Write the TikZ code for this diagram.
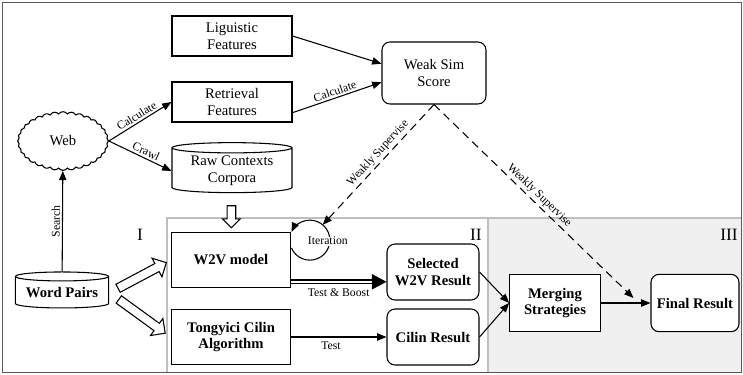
\documentclass[tikz,border=0pt]{standalone}
\usepackage{fontspec}
\setmainfont{Liberation Serif}
\usetikzlibrary{arrows.meta,shapes.geometric,shapes.symbols,shapes.arrows,calc}

\begin{document}
\begin{tikzpicture}[x=0.75pt, y=-0.75pt, >={Triangle[length=7pt,width=5.5pt]},
  font=\fontsize{11}{12.5}\selectfont,
  block/.style={rectangle, draw, fill=white, line width=0.8pt, align=center, inner sep=2pt},
  featblock/.style={block, minimum width=90pt, minimum height=30pt},
  boldblock/.style={block, font=\fontsize{11}{12.5}\selectfont\bfseries},
  algblock/.style={boldblock, minimum width=89pt, minimum height=41pt},
  resblock/.style={boldblock, rounded corners=6pt, minimum width=69pt, minimum height=42pt},
  store/.style={cylinder, shape border rotate=90, draw, fill=white, line width=0.8pt, align=center, aspect=0.12, inner sep=1pt},
  fatarrow/.style={single arrow, draw, fill=white, line width=0.8pt, minimum height=#1, inner sep=3pt, single arrow head extend=4.5pt},
  conn/.style={->, line width=0.8pt},
  weak/.style={->, line width=0.8pt, dash pattern=on 6pt off 4pt},
  lbl/.style={font=\fontsize{8.8}{10}\selectfont, inner sep=1.5pt},
  roman/.style={font=\fontsize{13}{15}\selectfont, inner sep=0pt}]

  \useasboundingbox (0,0) rectangle (743,375);

  % stage backgrounds
  \fill[black!6] (488,218) rectangle (741,372);
  \draw[black!25, line width=0.8pt] (167,373) |- (741,218);
  \draw[black!25, line width=0.8pt] (488,218) -- (488,373);
  \draw[black!65, line width=0.8pt] (2.5,2.5) rectangle (741.5,372.5);

  \node[roman] (stageone) at (140,235) {I};
  \node[roman, anchor=east] (stagetwo) at (482,235) {II};
  \node[roman, anchor=east] (stagethree) at (738,235) {III};

  % weak similarity part
  \node[featblock] (lingfeat) at (232,36) {Liguistic\\Features};
  \node[featblock, below of=lingfeat, node distance=49.5pt] (retfeat) {Retrieval\\Features};
  \node[store, below of=retfeat, node distance=51.75pt, minimum width=90pt, minimum height=37.5pt] (rawcorpus) {Raw Contexts\\Corpora};
  \node[cloud, draw, fill=white, line width=0.8pt, cloud puffs=32, cloud puff arc=110, aspect=1.5, minimum width=68pt, minimum height=44pt, inner sep=0pt] (web) at (63,141) {Web};
  \node[block, rounded corners=6pt, minimum width=78pt, minimum height=46.5pt] (weaksim) at (434,73) {Weak Sim\\Score};

  % main pipeline
  \node[store, minimum width=70pt, minimum height=27pt, font=\fontsize{11}{12.5}\selectfont\bfseries] (wordpairs) at (62,293) {Word Pairs};
  \node[algblock] (wvmodel) at (231,260) {W2V model};
  \node[algblock, below of=wvmodel, node distance=57.75pt] (cilinalg) {Tongyici Cilin\\Algorithm};
  \node[resblock] (selresult) at (433,272) {Selected\\W2V Result};
  \node[resblock, below of=selresult, node distance=48.75pt] (cilresult) {Cilin Result};
  \node[boldblock, minimum width=68pt, minimum height=43pt] (merging) at (555,303) {Merging\\Strategies};
  \node[resblock, right of=merging, node distance=105pt, minimum width=66pt, minimum height=43pt] (finalresult) {Final Result};

  \node[fatarrow=16.5pt, rotate=-90, inner sep=2.8pt, single arrow head extend=3.5pt] (rawarrow) at ($(rawcorpus.south)!0.55!(wvmodel.north)$) {};
  \node[fatarrow=41pt, rotate=28] (wvarrow) at ($(wordpairs.east)!0.5!(wvmodel.west)$) {};
  \node[fatarrow=43pt, rotate=-36] (cilarrow) at ($(wordpairs.east)!0.5!(cilinalg.west)$) {};

  \coordinate (itercenter) at ($(wvmodel.north east)+(19,8)$);
  \coordinate (iterhit) at ($(itercenter)+(-50:20)$);
  \coordinate (finhit) at ($(finalresult.west)+(-17,-5)$);

  \draw[conn] (wordpairs) -- node[lbl, midway, sloped, above] {Search} (web);
  \draw[conn] (web.east) -- node[lbl, midway, sloped, above] {Calculate} (retfeat.west);
  \draw[conn] (web.east) -- node[lbl, pos=0.55, sloped, above] {Crawl} (rawcorpus.west);
  \draw[conn] (lingfeat.east) -- (weaksim.170);
  \draw[conn] (retfeat.-10) -- node[lbl, midway, sloped, above] {Calculate} (weaksim.190);

  \draw[conn] ($(itercenter)+(157:20)$) arc[start angle=157, end angle=-156, radius=20];
  \node[lbl, fill=white, inner sep=0.5pt] (iterlabel) at ($(itercenter)+(18,1)$) {Iteration};

  \draw[weak] (weaksim.south) -- node[lbl, pos=0.45, sloped, above] {Weakly Supervise} (iterhit);
  \draw[weak] (weaksim.south) -- node[lbl, pos=0.5, sloped, above] {Weakly Supervise} (finhit);

  \draw[line width=0.9pt, double, double distance=1.8pt, -{Triangle[length=11pt,width=11.5pt]}] (wvmodel.-20) -- node[lbl, midway, below=3pt] {Test \& Boost} (wvmodel.-20 -| selresult.west);
  \draw[conn] (cilinalg) -- node[lbl, pos=0.42, below=2pt] {Test} (cilresult);
  \draw[conn] (selresult.east) -- (merging.west);
  \draw[conn] (cilresult.east) -- (merging.west);
  \draw[conn] (merging) -- (finalresult);

\end{tikzpicture}
\end{document}
